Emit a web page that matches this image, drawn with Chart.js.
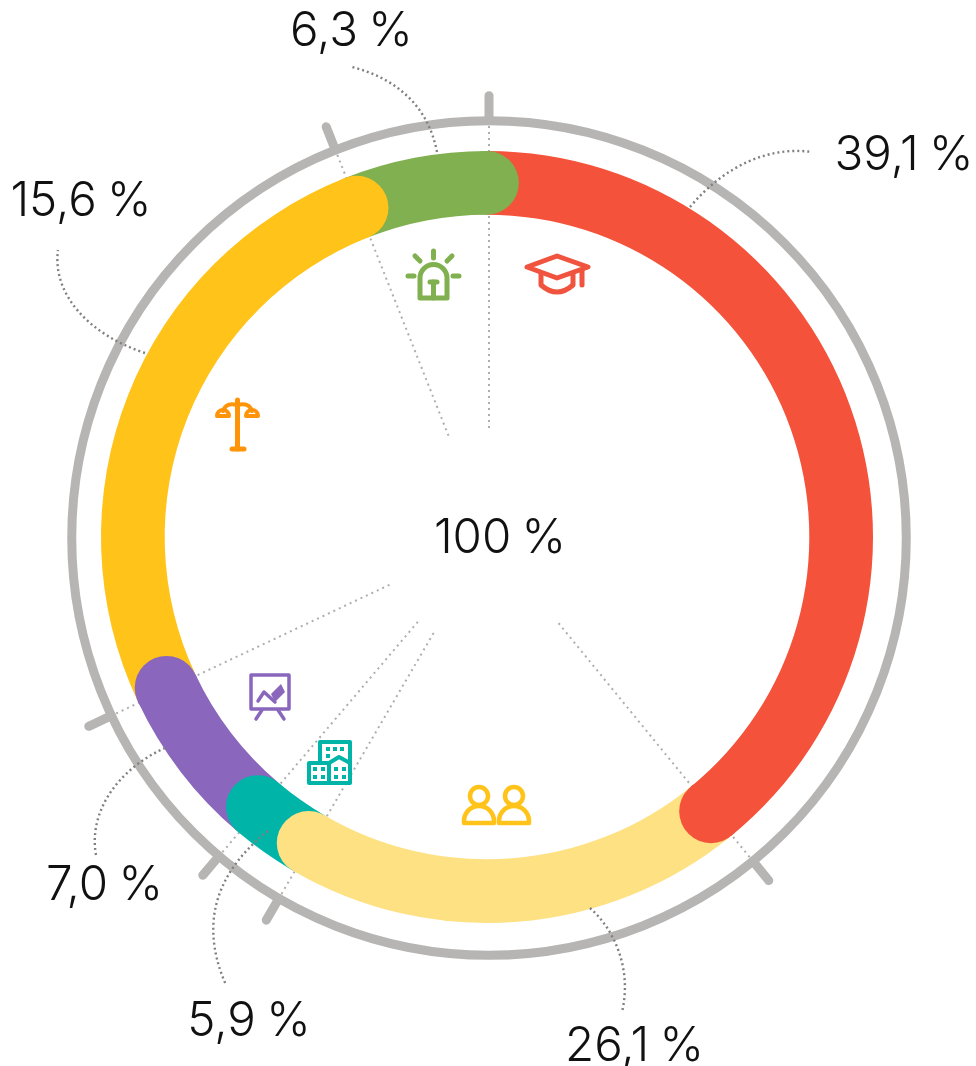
<!DOCTYPE html>
<html>
<head>
<meta charset="utf-8">
<title>100 %</title>
<style>
	html, body { margin: 0; padding: 0; background: #fff; }
	canvas { display: block; }
</style>
<script src="https://cdn.jsdelivr.net/npm/chart.js@4/dist/chart.umd.min.js"></script>
</head>
<body>
<canvas id="mycanvas" width="976" height="1066"></canvas>
<script>
var categories = ['education', 'people', 'buildings', 'presentation', 'justice', 'alarm'];
// arc lengths as measured on the ring, they differ from the printed figures
var arcShares = [39.1, 19.3, 2.8, 6.8, 26.0, 6.0];
var printedLabels = ['39,1 %', '26,1 %', '5,9 %', '7,0 %', '15,6 %', '6,3 %'];
var totalLabel = '100 %';
var colors = ['#f4523a', '#fee183', '#00b5a8', '#8a67bc', '#ffc31a', '#80b04f'];

var labelSpots = [[904, 170], [634.5, 1061], [249, 1036], [104.5, 900], [81, 216], [351.5, 46]];
var leaders = [
	[690, 207, 725, 165, 770, 146, 812, 152],
	[590, 908, 615, 930, 632, 970, 622, 1012],
	[268, 831, 225, 865, 195, 915, 226, 985],
	[165, 748, 120, 768, 88, 810, 96, 855],
	[145, 353, 90, 335, 52, 295, 58, 250],
	[437, 152, 428, 105, 395, 78, 352, 67]
];
var ringCentre = [489, 538];

function line(ctx, pts) {
	ctx.beginPath();
	ctx.moveTo(pts[0], pts[1]);
	for (var i = 2; i < pts.length; i += 2) ctx.lineTo(pts[i], pts[i + 1]);
	ctx.stroke();
}

function pen(ctx, color, width) {
	ctx.strokeStyle = color;
	ctx.fillStyle = color;
	ctx.lineWidth = width;
	ctx.lineCap = 'round';
	ctx.lineJoin = 'round';
}

function drawIcons(ctx) {
	// alarm
	pen(ctx, '#80b04f', 5);
	ctx.beginPath();
	ctx.moveTo(420, 298);
	ctx.lineTo(420, 278);
	ctx.arc(433.5, 278, 13.5, Math.PI, 0);
	ctx.lineTo(447, 298);
	ctx.closePath();
	ctx.stroke();
	line(ctx, [433.5, 298, 433.5, 282]);
	line(ctx, [430, 282, 437, 282]);
	line(ctx, [433.5, 251, 433.5, 258]);
	line(ctx, [415, 256, 420, 261]);
	line(ctx, [452, 256, 447, 261]);
	line(ctx, [408, 276, 414, 276]);
	line(ctx, [453, 276, 459, 276]);

	// cap
	pen(ctx, '#f0543f', 5);
	ctx.beginPath();
	ctx.moveTo(527, 267);
	ctx.lineTo(557, 256);
	ctx.lineTo(588, 267);
	ctx.lineTo(557, 278);
	ctx.closePath();
	ctx.stroke();
	ctx.beginPath();
	ctx.moveTo(541, 274);
	ctx.lineTo(541, 285);
	ctx.quadraticCurveTo(557, 299, 573, 285);
	ctx.lineTo(573, 274);
	ctx.stroke();
	line(ctx, [582, 270, 582, 285]);

	// lamp
	pen(ctx, '#ff9408', 5);
	line(ctx, [237.5, 400, 237.5, 449]);
	line(ctx, [232, 449, 244, 449]);
	ctx.lineWidth = 4;
	ctx.beginPath();
	ctx.moveTo(223, 411);
	ctx.quadraticCurveTo(226, 402, 237.5, 405);
	ctx.quadraticCurveTo(249, 402, 252, 411);
	ctx.stroke();
	ctx.beginPath();
	ctx.arc(223, 416, 6, Math.PI, 0);
	ctx.closePath();
	ctx.stroke();
	ctx.beginPath();
	ctx.arc(252, 416, 6, Math.PI, 0);
	ctx.closePath();
	ctx.stroke();

	// presentation board
	pen(ctx, '#8a67bc', 3.5);
	ctx.strokeRect(251, 675, 38, 34);
	line(ctx, [262, 710, 256, 719]);
	line(ctx, [278, 710, 284, 719]);
	line(ctx, [258, 701, 264, 692, 275, 702]);
	ctx.beginPath();
	ctx.moveTo(275, 702);
	ctx.lineTo(271, 694);
	ctx.lineTo(281, 684);
	ctx.lineTo(285, 692);
	ctx.closePath();
	ctx.fill();

	// buildings
	pen(ctx, '#00b5a8', 4);
	ctx.strokeRect(320, 742, 30, 40);
	ctx.fillStyle = '#fff';
	ctx.fillRect(309, 762, 40, 21);
	ctx.strokeRect(309, 763, 20, 20);
	ctx.beginPath();
	ctx.moveTo(329, 783);
	ctx.lineTo(329, 763);
	ctx.lineTo(339, 757);
	ctx.lineTo(350, 763);
	ctx.lineTo(350, 783);
	ctx.closePath();
	ctx.fill();
	ctx.stroke();
	ctx.fillStyle = '#00b5a8';
	var wins = [326, 747, 333, 747, 340, 747, 326, 754, 313, 767, 321, 767, 313, 775, 321, 775, 334, 767, 342, 767, 334, 775, 342, 775];
	for (var i = 0; i < wins.length; i += 2) ctx.fillRect(wins[i], wins[i + 1], 4, 4);

	// people
	pen(ctx, '#ffc31a', 4.5);
	[479, 514].forEach(function(x) {
		ctx.beginPath();
		ctx.arc(x, 796, 9, 0, Math.PI * 2);
		ctx.stroke();
		ctx.beginPath();
		ctx.moveTo(x - 15, 823);
		ctx.lineTo(x - 15, 821);
		ctx.arc(x, 821, 15, Math.PI, 0);
		ctx.lineTo(x + 15, 823);
		ctx.closePath();
		ctx.stroke();
	});
}

var ringPlugin = {
	id: 'ringPlugin',
	beforeDatasetsDraw: function(chart) {
		var ctx = chart.ctx;
		var arcs = chart.getDatasetMeta(0).data;
		var cx = ringCentre[0], cy = ringCentre[1];
		var R = arcs[0].outerRadius * 1.081;
		ctx.save();
		// spokes under the coloured band
		arcs.forEach(function(a) {
			var c = Math.cos(a.endAngle), s = Math.sin(a.endAngle);
			ctx.strokeStyle = '#aeaeae';
			ctx.lineWidth = 2;
			ctx.lineCap = 'butt';
			ctx.setLineDash([2, 4]);
			line(ctx, [cx + c * 110, cy + s * 110, cx + c * R, cy + s * R]);
		});
		ctx.setLineDash([]);
		// grey outer ring and ticks
		pen(ctx, '#b6b5b3', 9);
		ctx.beginPath();
		ctx.arc(cx, cy, R, 0, Math.PI * 2);
		ctx.stroke();
		arcs.forEach(function(a) {
			var c = Math.cos(a.endAngle), s = Math.sin(a.endAngle);
			line(ctx, [cx + c * R, cy + s * R, cx + c * R * 1.06, cy + s * R * 1.06]);
		});
		ctx.restore();
	},
	afterDatasetsDraw: function(chart) {
		var ctx = chart.ctx;
		var arcs = chart.getDatasetMeta(0).data;
		ctx.save();
		// every band ends in a round cap lying on the next one
		for (var i = arcs.length - 1; i >= 0; i--) {
			var a = arcs[i];
			var mid = (a.outerRadius + a.innerRadius) / 2;
			ctx.fillStyle = colors[i];
			ctx.beginPath();
			ctx.arc(a.x + Math.cos(a.endAngle) * mid, a.y + Math.sin(a.endAngle) * mid, (a.outerRadius - a.innerRadius) / 2, 0, Math.PI * 2);
			ctx.fill();
		}

		// leader lines
		ctx.strokeStyle = '#808080';
		ctx.lineWidth = 2.4;
		ctx.setLineDash([2, 3]);
		leaders.forEach(function(p) {
			ctx.beginPath();
			ctx.moveTo(p[0], p[1]);
			ctx.bezierCurveTo(p[2], p[3], p[4], p[5], p[6], p[7]);
			ctx.stroke();
		});
		ctx.setLineDash([]);

		drawIcons(ctx);

		ctx.fillStyle = '#111';
		ctx.font = '300 47.5px Inter';
		ctx.wordSpacing = '-3px';
		ctx.textAlign = 'center';
		ctx.textBaseline = 'alphabetic';
		printedLabels.forEach(function(t, i) {
			ctx.fillText(t, labelSpots[i][0], labelSpots[i][1]);
		});
		ctx.fillText(totalLabel, 500, 553);
		ctx.restore();
	}
};

var chartdata = {
	labels: categories,
	datasets: [
		{
			data: arcShares,
			backgroundColor: colors,
			borderWidth: 0
		}
	]
};

var ctx = document.getElementById('mycanvas');

var ringChart = new Chart(ctx, {
	type: 'doughnut',
	data: chartdata,
	plugins: [ringPlugin],
	options: {
		responsive: false,
		animation: false,
		cutout: '83.5%',
		layout: { padding: { left: 101, right: 103, top: 151, bottom: 143 } },
		plugins: {
			legend: { display: false },
			tooltip: { enabled: false }
		}
	}
});
</script>
</body>
</html>
